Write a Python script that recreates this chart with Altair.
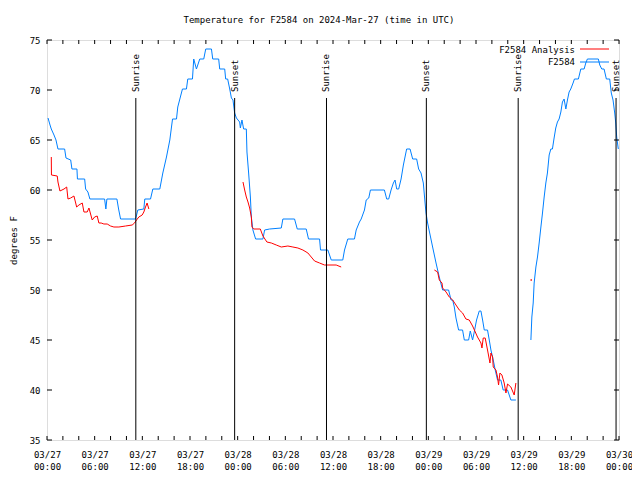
import altair as alt
import pandas as pd

# ---------------- data (hours after 2024-03-27 00:00 UTC, degrees F) ----------------
blue1_h = [0.13, 0.38, 0.54, 0.88, 1.13, 1.38, 2.22, 2.39, 2.98, 3.14, 3.77, 3.83, 4.74, 4.86, 5.15, 5.40,
           7.25, 7.41, 7.54, 8.80, 9.01, 9.26, 11.15, 11.43, 12.19, 12.31, 13.03, 13.32, 14.20, 14.58,
           15.04, 15.46, 15.80, 16.30, 16.46, 17.05, 17.55, 17.72, 18.31, 18.47, 18.81, 19.23, 19.73,
           19.98, 20.70, 20.86, 21.61, 21.74, 22.37, 22.49, 22.74, 23.00, 23.21, 23.41, 23.62, 23.84,
           24.25, 24.34, 24.54, 24.75, 25.09, 25.17, 25.38, 25.60, 25.72, 25.92, 26.26, 27.18, 27.39,
           28.02, 29.49, 29.69, 31.16, 31.50, 32.63, 32.92, 34.31, 34.43, 35.35, 35.78, 37.23, 37.45,
           37.86, 38.70, 38.92, 39.33, 39.55, 39.96, 40.18, 40.50, 40.71, 42.47, 42.76, 43.01, 43.31,
           43.60, 43.81, 44.02, 44.27, 44.57, 44.86, 45.27, 45.70, 46.03, 46.53, 46.78, 47.08, 47.37,
           47.59, 47.71, 47.91, 48.54, 48.97, 49.17, 49.47, 49.80, 50.55, 50.86, 51.06, 51.27, 51.48,
           51.81, 52.31, 52.53, 53.07, 53.28, 53.57, 53.78, 54.07, 54.41, 54.62, 54.83, 55.04, 55.45,
           55.67, 55.88, 56.17, 56.42, 56.71, 57.13, 57.42, 57.97, 58.39, 59.02]
blue1_t = [67.2, 66.5, 66.1, 65.5, 65.0, 64.1, 64.1, 63.2, 63.0, 62.1, 62.1, 61.1, 61.1, 60.1, 59.8, 59.1,
           59.1, 58.1, 59.1, 59.1, 58.1, 57.1, 57.1, 58.0, 58.1, 59.1, 59.1, 60.1, 60.1, 61.7,
           63.3, 65.0, 67.1, 67.1, 68.3, 70.1, 70.1, 71.1, 71.1, 73.1, 72.1, 73.1, 73.1,
           74.1, 74.1, 73.1, 73.1, 72.1, 72.1, 71.1, 71.1, 70.1, 69.2, 69.0, 67.7, 67.2,
           66.8, 66.2, 67.0, 66.1, 66.1, 63.8, 61.7, 59.3, 57.3, 56.0, 55.1, 55.1, 56.0,
           56.1, 56.2, 57.1, 57.1, 56.1, 56.1, 55.1, 55.1, 54.0, 54.0, 53.0, 53.0, 54.0,
           55.1, 55.1, 56.0, 56.8, 57.1, 58.0, 59.0, 59.2, 60.0, 60.0, 59.1, 59.1, 60.0,
           60.7, 61.0, 60.1, 60.1, 61.1, 62.5, 64.1, 64.1, 63.1, 63.1, 62.1, 61.7, 60.7,
           58.7, 57.7, 56.7, 54.3, 52.7, 52.0, 51.0, 50.0, 50.0, 49.0, 49.0, 48.3, 47.2,
           46.0, 46.0, 45.0, 45.0, 45.9, 45.0, 45.8, 47.0, 47.9, 47.9, 47.0, 46.0, 46.0,
           45.0, 44.0, 43.0, 42.0, 41.0, 41.0, 40.0, 40.0, 39.0, 39.0]

blue2_h = [60.91, 61.03, 61.20, 61.32, 61.54, 61.74, 61.95, 62.17, 62.37, 62.58, 62.79, 62.99, 63.21,
           63.42, 63.62, 63.83, 64.04, 64.25, 64.46, 64.68, 64.88, 65.09, 65.31, 65.51, 65.72, 65.93,
           66.22, 66.39, 66.89, 67.07, 67.19, 67.61, 67.82, 68.02, 69.40, 69.58, 69.83, 70.12, 70.41,
           70.83, 71.03, 71.25, 71.46, 71.59, 71.71, 71.91]
blue2_t = [45.0, 47.3, 48.7, 50.7, 52.3, 53.3, 54.7, 56.3, 57.7, 59.3, 60.7, 61.7, 63.5,
           64.1, 64.1, 65.2, 66.2, 66.8, 67.1, 67.8, 68.8, 69.1, 68.1, 69.0, 69.8, 70.1,
           70.7, 71.1, 71.1, 71.7, 72.1, 72.1, 72.7, 73.1, 73.1, 72.5, 72.1, 72.1, 71.1,
           71.1, 69.7, 69.0, 67.7, 66.7, 65.3, 64.1]

red1_h = [0.54, 0.56, 1.29, 1.38, 1.63, 2.14, 2.48, 2.64, 2.98, 3.39, 3.61, 3.73, 4.02, 4.44, 4.65, 5.06,
          5.28, 5.69, 5.99, 6.32, 6.53, 6.82, 7.16, 7.58, 8.00, 8.42, 9.05, 9.89, 10.72, 11.02, 11.27,
          11.56, 11.98, 12.19, 12.40, 12.60, 12.82]
red1_t = [63.3, 61.5, 61.4, 60.8, 59.9, 60.1, 60.3, 59.1, 59.2, 59.4, 58.7, 58.3, 58.5, 58.7, 57.8, 57.8,
          58.2, 57.0, 57.3, 57.4, 56.7, 56.7, 56.6, 56.6, 56.4, 56.3, 56.3, 56.4, 56.5, 56.7, 57.0,
          57.3, 57.5, 57.8, 58.3, 58.7, 58.1]

red2_h = [24.67, 24.88, 25.09, 25.30, 25.51, 25.72, 25.80, 26.01, 26.85, 27.18, 27.68, 28.24, 28.86,
          29.49, 30.32, 30.95, 31.58, 32.21, 32.84, 33.26, 33.68, 34.31, 34.93, 36.40, 37.03]
red2_t = [60.8, 60.0, 59.3, 58.8, 58.2, 57.3, 56.3, 56.1, 56.1, 55.4, 54.8, 54.7, 54.5,
          54.3, 54.4, 54.3, 54.2, 54.0, 53.7, 53.3, 52.9, 52.7, 52.5, 52.5, 52.3]

red3_h = [48.76, 49.17, 49.38, 49.72, 49.80, 50.23, 50.64, 51.06, 51.48, 51.90, 52.31, 52.73, 53.15,
          53.57, 53.91, 54.19, 54.62, 54.75, 54.91, 55.16, 55.45, 55.76, 55.88, 56.09, 56.17, 56.51,
          56.71, 56.84, 57.01, 57.26, 57.55, 57.77, 57.97, 58.39, 58.81, 59.02]
red3_t = [52.0, 51.8, 51.0, 50.7, 50.2, 49.8, 49.3, 49.0, 48.5, 48.0, 47.7, 47.1, 47.0,
          46.4, 45.8, 45.3, 44.7, 44.2, 45.2, 45.2, 44.0, 42.7, 43.7, 43.3, 42.3, 42.0,
          41.3, 40.5, 41.7, 41.5, 40.7, 39.7, 40.6, 40.3, 39.5, 40.7]

red_dot_h = [60.95]
red_dot_t = [51.0]

sun_h = [11.18, 23.62, 35.18, 47.75, 59.31, 71.63]
sun_labels = ["Sunrise", "Sunset", "Sunrise", "Sunset", "Sunrise", "Sunset"]

y_ticks = [35, 40, 45, 50, 55, 60, 65, 70, 75]
x_label_hours = list(range(0, 73, 6))
x_minor_hours = list(range(0, 73, 2))

TITLE = "Temperature for F2584 on 2024-Mar-27 (time in UTC)"
FONT = "DejaVu Sans Mono"
FS = 9
RED = "#ff0000"
BLUE = "#0080ff"

base = pd.Timestamp("2024-03-27T00:00:00Z")


def iso(hours):
    return [(base + pd.to_timedelta(h, unit="h")).strftime("%Y-%m-%dT%H:%M:%SZ") for h in hours]


def ms(h):
    return int((base + pd.to_timedelta(h, unit="h")).timestamp() * 1000)


frames = []
for name, seg, hh, tt in [("F2584", "b1", blue1_h, blue1_t), ("F2584", "b2", blue2_h, blue2_t),
                          ("F2584 Analysis", "r1", red1_h, red1_t),
                          ("F2584 Analysis", "r2", red2_h, red2_t),
                          ("F2584 Analysis", "r3", red3_h, red3_t)]:
    frames.append(pd.DataFrame({"time": iso(hh), "temp": tt, "series": name, "seg": seg}))
lines_df = pd.concat(frames, ignore_index=True)
dot_df = pd.DataFrame({"time": iso(red_dot_h), "temp": red_dot_t})
sun_df = pd.DataFrame({"time": iso(sun_h), "label": sun_labels})
xt_df = pd.DataFrame({"time": iso(x_minor_hours)})
yt_df = pd.DataFrame({"temp": y_ticks})

W, H = 572, 400

x_scale = alt.Scale(type="utc", domain=[ms(0), ms(72)])
y_scale = alt.Scale(domain=[35, 75], nice=False, zero=False)

x_axis = alt.Axis(values=[ms(h) for h in x_label_hours],
                  labelExpr="[utcFormat(datum.value, '%m/%d'), utcFormat(datum.value, '%H:%M')]",
                  labelFont=FONT, labelFontSize=FS, labelColor="black", labelPadding=10,
                  labelLineHeight=12, tickSize=0, domain=False, grid=False, title=None,
                  labelOverlap=False, labelFlush=False)
y_axis = alt.Axis(values=y_ticks, labelFont=FONT, labelFontSize=FS, labelColor="black",
                  labelPadding=7, tickSize=0, domain=False, grid=False, title="degrees F",
                  titleFont=FONT, titleFontSize=FS, titleFontWeight="normal", titleColor="black",
                  titlePadding=11)

X = alt.X("time:T", scale=x_scale, axis=x_axis)
Y = alt.Y("temp:Q", scale=y_scale, axis=y_axis)

lines = alt.Chart(lines_df).mark_line(strokeWidth=1, interpolate="linear").encode(
    x=X, y=Y,
    color=alt.Color("series:N", scale=alt.Scale(domain=["F2584 Analysis", "F2584"], range=[RED, BLUE]),
                    legend=None),
    detail="seg:N",
    order=alt.Order("time:T"),
)

dot = alt.Chart(dot_df).mark_square(size=2, color=RED, opacity=1).encode(x=X, y=Y)

sun_rule = alt.Chart(sun_df).mark_rule(color="black", strokeWidth=1).encode(
    x=X, y=alt.value(58), y2=alt.value(H))
sun_text = alt.Chart(sun_df).mark_text(angle=270, align="left", baseline="middle", font=FONT,
                                       fontSize=FS, color="black").encode(
    x=X, y=alt.value(52), text="label:N")

top_ticks = alt.Chart(xt_df).mark_rule(color="black").encode(x=X, y=alt.value(0), y2=alt.value(4))
bot_ticks = alt.Chart(xt_df).mark_rule(color="black").encode(x=X, y=alt.value(H - 4), y2=alt.value(H))
left_ticks = alt.Chart(yt_df).mark_rule(color="black").encode(y=Y, x=alt.value(0), x2=alt.value(5))
right_ticks = alt.Chart(yt_df).mark_rule(color="black").encode(y=Y, x=alt.value(W - 5), x2=alt.value(W))

leg_df = pd.DataFrame({"name": ["F2584 Analysis", "F2584"]})
leg_text1 = alt.Chart(leg_df).transform_filter("datum.name == 'F2584 Analysis'").mark_text(
    align="right", baseline="middle", font=FONT, fontSize=FS, color="black").encode(
    text="name:N", x=alt.value(528), y=alt.value(10))
leg_text2 = alt.Chart(leg_df).transform_filter("datum.name == 'F2584'").mark_text(
    align="right", baseline="middle", font=FONT, fontSize=FS, color="black").encode(
    text="name:N", x=alt.value(528), y=alt.value(22))
leg_line1 = alt.Chart(leg_df).transform_filter("datum.name == 'F2584 Analysis'").mark_rule(
    color=RED, strokeWidth=1).encode(x=alt.value(533), x2=alt.value(562), y=alt.value(9))
leg_line2 = alt.Chart(leg_df).transform_filter("datum.name == 'F2584'").mark_rule(
    color=BLUE, strokeWidth=1).encode(x=alt.value(533), x2=alt.value(562), y=alt.value(22))

chart = alt.layer(
    lines, dot, sun_rule, sun_text, top_ticks, bot_ticks, left_ticks, right_ticks,
    leg_text1, leg_text2, leg_line1, leg_line2,
).properties(
    width=W, height=H,
    title=alt.TitleParams(TITLE, font=FONT, fontSize=FS, fontWeight="normal", color="black",
                          anchor="middle", dx=-14, offset=11),
    autosize=alt.AutoSizeParams(type="none"),
    padding={"left": 39, "top": 32, "right": 13, "bottom": 30},
).configure_view(stroke="black", strokeWidth=1).configure(background="white")

chart.save("out.html", embed_options={"renderer": "svg", "actions": False})
